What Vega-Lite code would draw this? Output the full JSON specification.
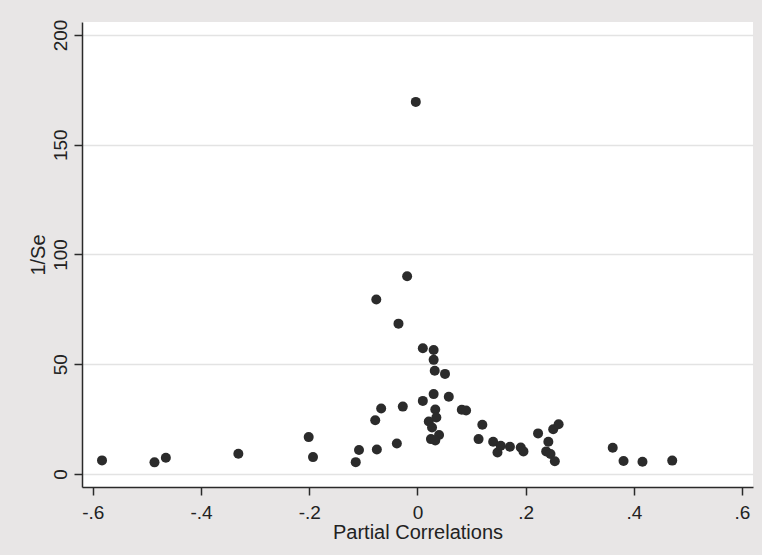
{
  "$schema": "https://vega.github.io/schema/vega-lite/v6.json",
  "width": 671,
  "height": 465,
  "autosize": "none",
  "padding": {"left": 82, "top": 22, "right": 9, "bottom": 68},
  "background": "#e8e6e6",
  "view": {"fill": "white", "stroke": null},
  "config": {
    "font": "Liberation Sans",
    "axis": {
      "labelFont": "Liberation Sans",
      "titleFont": "Liberation Sans",
      "labelFontSize": 19,
      "titleFontSize": 20,
      "titleFontWeight": "normal",
      "labelColor": "#222222",
      "titleColor": "#222222",
      "domainColor": "#2a2a2a",
      "domainWidth": 1.5,
      "tickColor": "#2a2a2a",
      "tickWidth": 1.5,
      "tickSize": 8
    }
  },
  "data": {
    "values": [
      {"pc": -0.583, "inv_se": 6.2},
      {"pc": -0.486, "inv_se": 5.3},
      {"pc": -0.465, "inv_se": 7.4},
      {"pc": -0.331, "inv_se": 9.2},
      {"pc": -0.201, "inv_se": 16.8},
      {"pc": -0.193, "inv_se": 7.7},
      {"pc": -0.114, "inv_se": 5.4},
      {"pc": -0.108, "inv_se": 10.9},
      {"pc": -0.075, "inv_se": 11.2},
      {"pc": -0.078, "inv_se": 24.5},
      {"pc": -0.076, "inv_se": 79.5},
      {"pc": -0.067, "inv_se": 29.8},
      {"pc": -0.038, "inv_se": 13.9},
      {"pc": -0.035, "inv_se": 68.5},
      {"pc": -0.027, "inv_se": 30.7},
      {"pc": -0.019, "inv_se": 90.1},
      {"pc": -0.003, "inv_se": 169.5},
      {"pc": 0.010, "inv_se": 57.3},
      {"pc": 0.010, "inv_se": 33.3},
      {"pc": 0.030, "inv_se": 56.5},
      {"pc": 0.030, "inv_se": 52.0},
      {"pc": 0.032, "inv_se": 47.0},
      {"pc": 0.051, "inv_se": 45.6},
      {"pc": 0.030, "inv_se": 36.4},
      {"pc": 0.058, "inv_se": 35.2},
      {"pc": 0.033, "inv_se": 29.4},
      {"pc": 0.035, "inv_se": 25.7},
      {"pc": 0.021, "inv_se": 23.9},
      {"pc": 0.027, "inv_se": 21.2},
      {"pc": 0.025, "inv_se": 15.9},
      {"pc": 0.040, "inv_se": 17.8},
      {"pc": 0.033, "inv_se": 15.3},
      {"pc": 0.082, "inv_se": 29.3},
      {"pc": 0.090, "inv_se": 28.9},
      {"pc": 0.120, "inv_se": 22.4},
      {"pc": 0.113, "inv_se": 15.9},
      {"pc": 0.140, "inv_se": 14.7},
      {"pc": 0.148, "inv_se": 9.8},
      {"pc": 0.154, "inv_se": 12.9},
      {"pc": 0.171, "inv_se": 12.4},
      {"pc": 0.191, "inv_se": 12.1},
      {"pc": 0.196, "inv_se": 10.3},
      {"pc": 0.223, "inv_se": 18.5},
      {"pc": 0.251, "inv_se": 20.4},
      {"pc": 0.261, "inv_se": 22.7},
      {"pc": 0.242, "inv_se": 14.7},
      {"pc": 0.238, "inv_se": 10.3},
      {"pc": 0.246, "inv_se": 9.1},
      {"pc": 0.254, "inv_se": 5.8},
      {"pc": 0.361, "inv_se": 12.0},
      {"pc": 0.381, "inv_se": 5.9},
      {"pc": 0.416, "inv_se": 5.6},
      {"pc": 0.471, "inv_se": 6.1}
    ]
  },
  "mark": {"type": "circle", "size": 100, "color": "#2b2b2b", "opacity": 1},
  "encoding": {
    "x": {
      "field": "pc",
      "type": "quantitative",
      "title": "Partial Correlations",
      "scale": {"domain": [-0.62, 0.6203], "nice": false, "zero": false},
      "axis": {
        "values": [-0.6, -0.4, -0.2, 0, 0.2, 0.4, 0.6],
        "labelExpr": "datum.value == 0 ? '0' : (datum.value < 0 ? '-' : '') + replace(format(abs(datum.value), '.1f'), '0.', '.')",
        "grid": false,
        "labelPadding": 8,
        "titlePadding": 0
      }
    },
    "y": {
      "field": "inv_se",
      "type": "quantitative",
      "title": "1/Se",
      "scale": {"domain": [-5.92, 205.9], "nice": false, "zero": false},
      "axis": {
        "values": [0, 50, 100, 150, 200],
        "grid": true,
        "gridColor": "#e3e3e3",
        "gridWidth": 1.5,
        "labelAngle": 270,
        "labelAlign": "center",
        "labelBaseline": "alphabetic",
        "labelPadding": 8,
        "titlePadding": 3
      }
    }
  }
}
